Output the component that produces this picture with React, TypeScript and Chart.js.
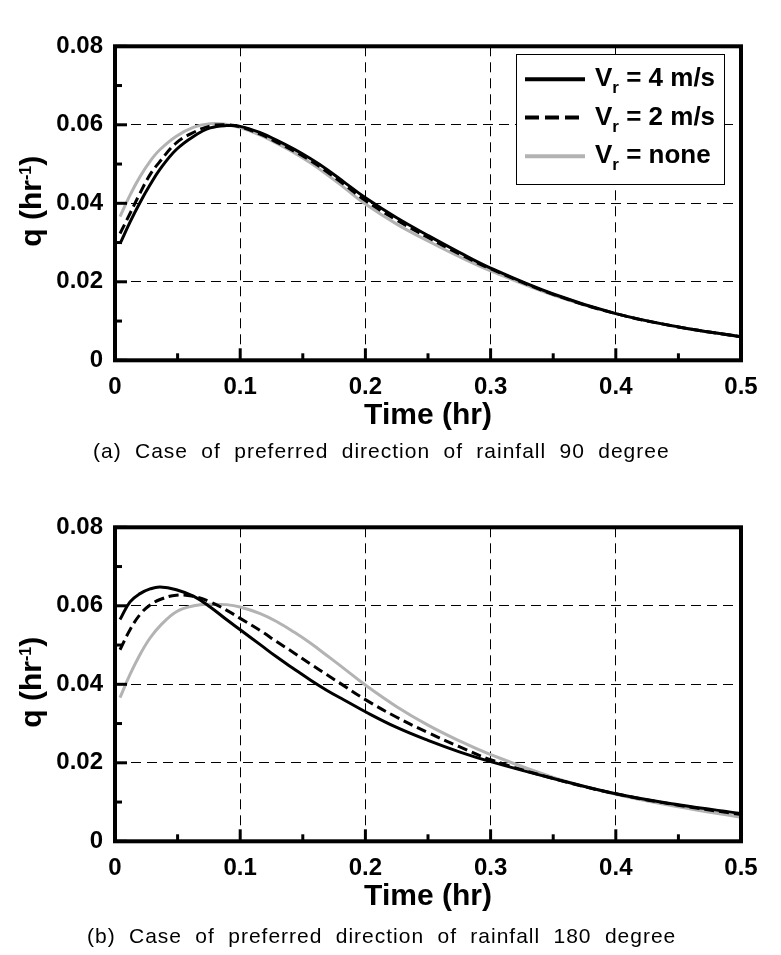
import React, { useEffect, useRef } from "react";
import { Chart, registerables } from "chart.js";

Chart.register(...registerables);

// ---------- data ----------
const TIME = [0.004, 0.012, 0.02, 0.028, 0.036, 0.049, 0.063, 0.076, 0.089, 0.1, 0.116, 0.129, 0.143, 0.156, 0.169, 0.183, 0.2, 0.225, 0.25, 0.275, 0.3, 0.35, 0.4, 0.45, 0.5];

// (a) preferred direction 90 degree
const A_VR4 = [0.0297, 0.0352, 0.0402, 0.0447, 0.0487, 0.0537, 0.0571, 0.0592, 0.0598, 0.0596, 0.058, 0.0561, 0.0538, 0.0514, 0.0487, 0.0454, 0.0414, 0.0363, 0.0318, 0.0275, 0.0235, 0.0169, 0.0119, 0.0085, 0.006];
const A_VR2 = [0.0323, 0.0374, 0.0426, 0.0473, 0.0507, 0.0554, 0.0581, 0.0597, 0.06, 0.0595, 0.0576, 0.0556, 0.0533, 0.0509, 0.0481, 0.0448, 0.0407, 0.0357, 0.0313, 0.0271, 0.0233, 0.0168, 0.0119, 0.0085, 0.006];
const A_NONE = [0.0366, 0.0421, 0.0468, 0.0507, 0.0537, 0.0571, 0.0594, 0.0603, 0.0601, 0.0593, 0.0574, 0.0553, 0.0529, 0.0503, 0.0474, 0.044, 0.0398, 0.0347, 0.0304, 0.0264, 0.0228, 0.0166, 0.0119, 0.0085, 0.006];

// (b) preferred direction 180 degree
const B_VR4 = [0.0565, 0.061, 0.0631, 0.0643, 0.0648, 0.0641, 0.0624, 0.0597, 0.0565, 0.0539, 0.0501, 0.047, 0.0439, 0.0411, 0.0385, 0.036, 0.033, 0.029, 0.0257, 0.0228, 0.0203, 0.016, 0.0121, 0.0093, 0.0071];
const B_VR2 = [0.0488, 0.0539, 0.0578, 0.0602, 0.0616, 0.0627, 0.0624, 0.061, 0.0589, 0.0568, 0.0537, 0.0509, 0.048, 0.0452, 0.0425, 0.0396, 0.0361, 0.0316, 0.0277, 0.0241, 0.0208, 0.016, 0.0121, 0.0092, 0.0068];
const B_NONE = [0.0366, 0.0425, 0.0476, 0.0518, 0.0549, 0.0585, 0.06, 0.0604, 0.0603, 0.0597, 0.058, 0.056, 0.0533, 0.0505, 0.0474, 0.044, 0.0398, 0.0343, 0.0296, 0.0256, 0.0221, 0.0163, 0.012, 0.0088, 0.0061];

const SERIES_SUFFIX = ["= 4 m/s", "= 2 m/s", "= none"];
const X_MINOR_TICKS = [0.05, 0.15, 0.25, 0.35, 0.45];
const Y_MINOR_TICKS = [0.01, 0.03, 0.05, 0.07];
const CAPTION_A = "(a) Case of preferred direction of rainfall 90 degree";
const CAPTION_B = "(b) Case of preferred direction of rainfall 180 degree";

// ---------- style ----------
const FONT = "'Liberation Sans', Arial, Helvetica, sans-serif";
const GRAY = "#b3b3b3";
const W = 781;
const H = 481;

const decoPlugin = (showLegend: boolean) => ({
  id: "deco",
  afterDatasetsDraw(chart: any) {
    const { ctx, chartArea: ca, scales } = chart;
    const xs = scales.x;
    const ys = scales.y;
    ctx.save();
    ctx.strokeStyle = "#000";
    ctx.lineCap = "butt";
    ctx.setLineDash([]);
    ctx.lineWidth = 3;
    xs.ticks.forEach((t: any) => {
      const p = xs.getPixelForValue(t.value);
      ctx.beginPath();
      ctx.moveTo(p, ca.bottom);
      ctx.lineTo(p, ca.bottom - 12);
      ctx.stroke();
    });
    ys.ticks.forEach((t: any) => {
      const p = ys.getPixelForValue(t.value);
      ctx.beginPath();
      ctx.moveTo(ca.left, p);
      ctx.lineTo(ca.left + 12, p);
      ctx.stroke();
    });
    X_MINOR_TICKS.forEach((v) => {
      const p = xs.getPixelForValue(v);
      ctx.beginPath();
      ctx.moveTo(p, ca.bottom);
      ctx.lineTo(p, ca.bottom - 7);
      ctx.stroke();
    });
    Y_MINOR_TICKS.forEach((v) => {
      const p = ys.getPixelForValue(v);
      ctx.beginPath();
      ctx.moveTo(ca.left, p);
      ctx.lineTo(ca.left + 7, p);
      ctx.stroke();
    });
    ctx.lineWidth = 4;
    ctx.strokeRect(ca.left, ca.top, ca.right - ca.left, ca.bottom - ca.top);
    ctx.restore();
  },
  afterDraw(chart: any) {
    const { ctx, chartArea: ca } = chart;
    ctx.save();
    ctx.fillStyle = "#000";
    const cy = (ca.top + ca.bottom) / 2 - 2;
    ctx.translate(41, cy);
    ctx.rotate(-Math.PI / 2);
    ctx.textBaseline = "alphabetic";
    ctx.textAlign = "left";
    const mainFont = `bold 30px ${FONT}`;
    const supFont = `bold 16px ${FONT}`;
    ctx.font = mainFont;
    const w1 = ctx.measureText("q (hr").width;
    const w3 = ctx.measureText(")").width;
    ctx.font = supFont;
    const w2 = ctx.measureText("-1").width;
    let x0 = -(w1 + w2 + w3) / 2;
    ctx.font = mainFont;
    ctx.fillText("q (hr", x0, 0);
    x0 += w1;
    ctx.font = supFont;
    ctx.fillText("-1", x0, -10);
    x0 += w2;
    ctx.font = mainFont;
    ctx.fillText(")", x0, 0);
    ctx.restore();

    if (!showLegend) return;
    const ds = chart.data.datasets;
    const bx = ca.right - 225;
    const by = ca.top + 8;
    ctx.save();
    ctx.fillStyle = "#fff";
    ctx.fillRect(bx, by, 208, 130);
    ctx.strokeStyle = "#000";
    ctx.lineWidth = 1;
    ctx.strokeRect(Math.round(bx) + 0.5, Math.round(by) + 0.5, 208, 130);
    const rowLine = [25, 63.3, 102];
    const rowBase = [32, 70.3, 108.7];
    ds.forEach((d: any, i: number) => {
      ctx.beginPath();
      ctx.strokeStyle = d.borderColor;
      ctx.lineWidth = 4;
      ctx.setLineDash(d.borderDash && d.borderDash.length ? [14, 6] : []);
      ctx.moveTo(bx + 9, by + rowLine[i]);
      ctx.lineTo(bx + 69, by + rowLine[i]);
      ctx.stroke();
      ctx.setLineDash([]);
      ctx.fillStyle = "#000";
      ctx.textBaseline = "alphabetic";
      ctx.textAlign = "left";
      let tx = bx + 79;
      const base = by + rowBase[i];
      ctx.font = `bold 26px ${FONT}`;
      ctx.fillText("V", tx, base);
      tx += ctx.measureText("V").width;
      ctx.font = `bold 17px ${FONT}`;
      ctx.fillText("r", tx, base + 7);
      tx += ctx.measureText("r").width;
      ctx.font = `bold 26px ${FONT}`;
      ctx.fillText(" " + SERIES_SUFFIX[i], tx, base);
    });
    ctx.restore();
  },
});

function makeConfig(v4: number[], v2: number[], none: number[], showLegend: boolean): any {
  const pts = (arr: number[]) => TIME.map((t, i) => ({ x: t, y: arr[i] }));
  const tickFont = { family: FONT, size: 24, weight: "bold" as const };
  const common = { borderWidth: 3, pointRadius: 0, tension: 0.4, fill: false };
  return {
    type: "line",
    data: {
      datasets: [
        { label: "Vr = 4 m/s", data: pts(v4), borderColor: "#000", ...common },
        { label: "Vr = 2 m/s", data: pts(v2), borderColor: "#000", borderDash: [10, 5], ...common },
        { label: "Vr = none", data: pts(none), borderColor: GRAY, ...common },
      ],
    },
    options: {
      responsive: false,
      animation: false,
      devicePixelRatio: 1,
      layout: { padding: { top: 46.3, right: 40, left: 0, bottom: H - 80 - 360.3 } },
      plugins: { legend: { display: false }, tooltip: { enabled: false }, title: { display: false } },
      scales: {
        x: {
          type: "linear",
          min: 0,
          max: 0.5,
          afterFit: (s: any) => { s.height = 80; },
          ticks: {
            stepSize: 0.1,
            padding: 13,
            color: "#000",
            font: tickFont,
            maxRotation: 0,
            autoSkip: false,
            callback: (v: any) => (Number(v) === 0 ? "0" : Number(v).toFixed(1)),
          },
          grid: { color: "#000", lineWidth: 1, drawTicks: false },
          border: { display: false, dash: [10, 6] },
          title: { display: true, text: "Time (hr)", color: "#000", font: { family: FONT, size: 30, weight: "bold" }, padding: { top: 0, bottom: 7 } },
        },
        y: {
          type: "linear",
          min: 0,
          max: 0.08,
          afterFit: (s: any) => { s.width = 115; },
          ticks: {
            stepSize: 0.02,
            padding: 12,
            color: "#000",
            font: tickFont,
            callback: (v: any) => (Number(v) === 0 ? "0" : Number(v).toFixed(2)),
          },
          grid: { color: "#000", lineWidth: 1, drawTicks: false },
          border: { display: false, dash: [10, 6] },
        },
      },
    },
    plugins: [decoPlugin(showLegend)],
  };
}

function Panel({ top, v4, v2, none, legend }: { top: number; v4: number[]; v2: number[]; none: number[]; legend: boolean }) {
  const ref = useRef<HTMLCanvasElement>(null);
  useEffect(() => {
    const chart = new Chart(ref.current as HTMLCanvasElement, makeConfig(v4, v2, none, legend));
    return () => chart.destroy();
  }, []);
  return (
    <canvas
      ref={ref}
      width={W}
      height={H}
      style={{ position: "absolute", left: 0, top, width: W, height: H }}
    />
  );
}

const captionStyle = (left: number, top: number): React.CSSProperties => ({
  position: "absolute",
  left,
  top,
  fontFamily: FONT,
  fontSize: 21,
  lineHeight: "24px",
  letterSpacing: "1px",
  wordSpacing: "6.5px",
  color: "#000",
  whiteSpace: "nowrap",
});

export default function App() {
  return (
    <div style={{ position: "absolute", left: 0, top: 0, width: W, height: 955, background: "#fff", overflow: "hidden" }}>
      <Panel top={0} v4={A_VR4} v2={A_VR2} none={A_NONE} legend={true} />
      <div style={captionStyle(93, 439)}>{CAPTION_A}</div>
      <Panel top={481} v4={B_VR4} v2={B_VR2} none={B_NONE} legend={false} />
      <div style={captionStyle(87, 924)}>{CAPTION_B}</div>
    </div>
  );
}
